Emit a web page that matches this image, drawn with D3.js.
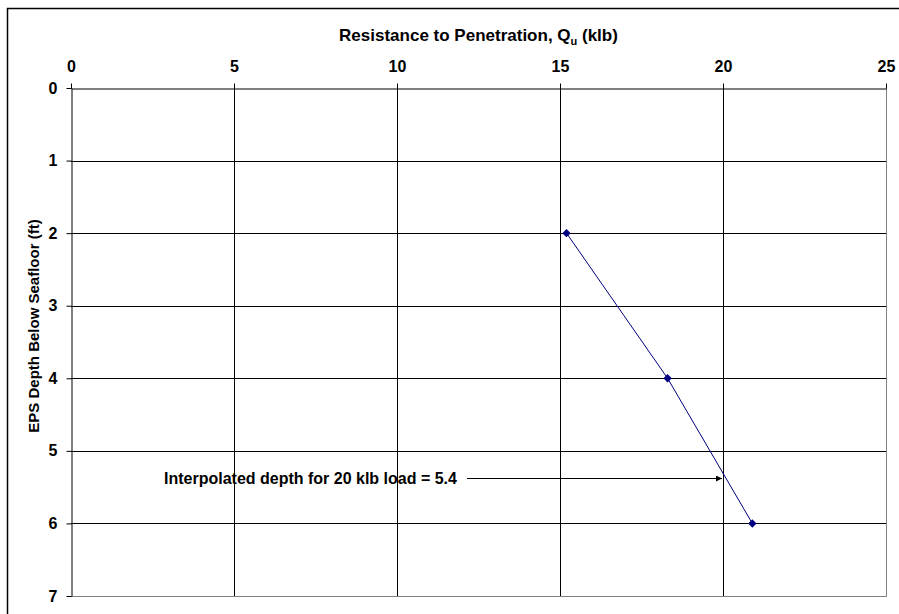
<!DOCTYPE html>
<html><head><meta charset="utf-8">
<script src="https://cdn.jsdelivr.net/npm/d3@7"></script>
<style>body{margin:0;background:#fff}svg{display:block}text{font-family:"Liberation Sans",Arial,sans-serif;font-weight:bold}</style>
</head><body><svg id="c" width="899" height="614"></svg>
<script>
const loads = [15.2, 18.3, 20.9];
const depths = [2, 4, 6];
const xTicks = [0, 5, 10, 15, 20, 25];
const yTicks = [0, 1, 2, 3, 4, 5, 6, 7];
const interpLoad = 20;
const interpDepth = 5.37;
const annotText = "Interpolated depth for 20 klb load = 5.4";

const svg = d3.select("#c");
const L = 71, R = 886, T = 88, B = 596;
const x = d3.scaleLinear().domain([0, 25]).range([L, R]);
const y = d3.scaleLinear().domain([0, 7]).range([T, B]);

svg.append("rect").attr("x", 7.5).attr("y", 8.5).attr("width", 1000).attr("height", 1000)
  .attr("fill", "#fff").attr("stroke", "#000").attr("stroke-width", 1.5);

// gridlines
const g = svg.append("g");
g.selectAll(".vx").data(xTicks.slice(1, -1)).join("line")
  .attr("x1", d => Math.round(x(d)) + 0.5).attr("x2", d => Math.round(x(d)) + 0.5)
  .attr("y1", T).attr("y2", B).attr("stroke", "#000");
g.selectAll(".hy").data(yTicks.slice(1, -1)).join("line")
  .attr("y1", d => Math.round(y(d)) + 0.5).attr("y2", d => Math.round(y(d)) + 0.5)
  .attr("x1", L).attr("x2", R).attr("stroke", "#000");
// plot border
g.append("line").attr("x1", L).attr("x2", R + 0.5).attr("y1", B + 0.5).attr("y2", B + 0.5).attr("stroke", "#808080");
g.append("line").attr("x1", R + 0.5).attr("x2", R + 0.5).attr("y1", T).attr("y2", B + 0.5).attr("stroke", "#808080");

// axes
const xa = svg.append("g").attr("transform", `translate(0,${T + 0.5})`)
  .call(d3.axisTop(x).tickValues(xTicks).tickFormat(d3.format("d")).tickSize(5).tickPadding(12).tickSizeOuter(0));
const ya = svg.append("g").attr("transform", `translate(${L + 0.5},0)`)
  .call(d3.axisLeft(y).tickValues(yTicks).tickFormat(d3.format("d")).tickSize(5).tickPadding(9).tickSizeOuter(0));
[xa, ya].forEach(a => {
  a.select(".domain").attr("stroke", "#000");
  a.selectAll(".tick line").attr("stroke", "#000");
  a.selectAll("text").attr("font-size", 16).attr("font-family", "Liberation Sans, Arial, sans-serif").attr("font-weight", "bold").attr("fill", "#000");
});

// titles
const t = svg.append("text").attr("x", (L + R) / 2).attr("y", 41).attr("text-anchor", "middle").attr("font-size", 17);
t.append("tspan").text("Resistance to Penetration, Q");
t.append("tspan").attr("font-size", 11).attr("dy", 4).text("u");
t.append("tspan").attr("dy", -4).text(" (klb)");
svg.append("text").attr("transform", `translate(39,326) rotate(-90)`)
  .attr("text-anchor", "middle").attr("font-size", 15).text("EPS Depth Below Seafloor (ft)");

// series
const pts = loads.map((v, i) => [v, depths[i]]);
svg.append("path").datum(pts).attr("fill", "none").attr("stroke", "#000080").attr("stroke-width", 1)
  .attr("d", d3.line().x(d => x(d[0])).y(d => y(d[1])));
svg.selectAll(".m").data(pts).join("path")
  .attr("transform", d => `translate(${x(d[0])},${y(d[1])})`)
  .attr("d", d3.symbol(d3.symbolDiamond2, 45)).attr("fill", "#000080");

// annotation
svg.append("defs").append("marker").attr("id", "ah").attr("viewBox", "0 0 10 10").attr("refX", 10).attr("refY", 5)
  .attr("markerWidth", 9).attr("markerHeight", 6).attr("markerUnits", "userSpaceOnUse").attr("orient", "auto")
  .append("path").attr("d", "M0,0L10,5L0,10z").attr("fill", "#000");
const ay = Math.round(y(interpDepth)) + 0.5;
svg.append("text").attr("x", 164).attr("y", ay + 5.5).attr("font-size", 16).text(annotText);
svg.append("line").attr("x1", 467).attr("x2", x(interpLoad) - 1).attr("y1", ay).attr("y2", ay)
  .attr("stroke", "#000").attr("marker-end", "url(#ah)");
</script></body></html>
